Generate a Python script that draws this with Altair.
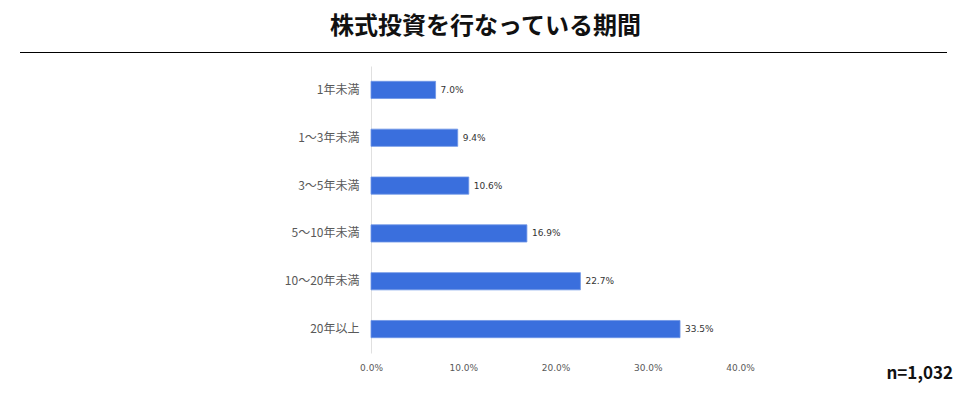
import altair as alt
import pandas as pd

categories = ["1年未満", "1〜3年未満", "3〜5年未満", "5〜10年未満", "10〜20年未満", "20年以上"]
values = [7.0, 9.4, 10.6, 16.9, 22.7, 33.5]
x_ticks = [0, 10, 20, 30, 40]
title_text = "株式投資を行なっている期間"
n_text = "n=1,032"

df = pd.DataFrame({"cat": categories, "val": values})
df["label"] = [f"{v:.1f}%" for v in values]

FONT = "Noto Sans CJK JP"
NUMFONT = "DejaVu Sans"
W, H = 369, 287

y_enc = alt.Y("cat:N", sort=categories, title=None,
              scale=alt.Scale(paddingInner=0.64, paddingOuter=0.32),
              axis=alt.Axis(labelFont=FONT, labelFontSize=12, labelColor="#595959",
                            labelPadding=12, ticks=False, domain=True,
                            domainColor="#e0e0e0", grid=False))
x_enc = alt.X("val:Q", title=None,
              scale=alt.Scale(domain=[0, 40], nice=False),
              axis=alt.Axis(values=x_ticks, labelExpr="format(datum.value, '.1f') + '%'",
                            labelFont=NUMFONT, labelFontSize=9, labelColor="#595959",
                            labelFlush=False, labelPadding=10, ticks=False,
                            domain=False, grid=False))

bars = alt.Chart(df).mark_bar(color="#3a6fdd", stroke="#6f95e6", strokeWidth=0.8).encode(
    x=x_enc, y=y_enc)

labels = alt.Chart(df).mark_text(align="left", dx=5, font=NUMFONT, fontSize=9,
                                 color="#333333", baseline="middle").encode(
    x=alt.X("val:Q"), y=alt.Y("cat:N", sort=categories), text="label:N")

rule = alt.Chart(pd.DataFrame({"a": [0]})).mark_rule(color="#000000", strokeWidth=1).encode(
    x=alt.value(-351), x2=alt.value(576), y=alt.value(-13.5))

ntext = alt.Chart(pd.DataFrame({"t": [n_text]})).mark_text(
    font=FONT, fontSize=17, fontWeight="bold", color="#111111",
    align="right", baseline="alphabetic").encode(
    x=alt.value(582), y=alt.value(313), text="t:N")

chart = alt.layer(bars, labels, rule, ntext).properties(
    width=W, height=H,
    title=alt.TitleParams(title_text, font=FONT, fontSize=24, fontWeight="bold",
                          color="#111111", anchor="middle", dx=-70, offset=13),
    background="white",
    autosize=alt.AutoSizeParams(type="none"),
    padding={"left": 363, "top": 58, "right": 229, "bottom": 37},
).configure_view(strokeWidth=0)

chart.save("out.html", embed_options={"renderer": "svg", "actions": False})
